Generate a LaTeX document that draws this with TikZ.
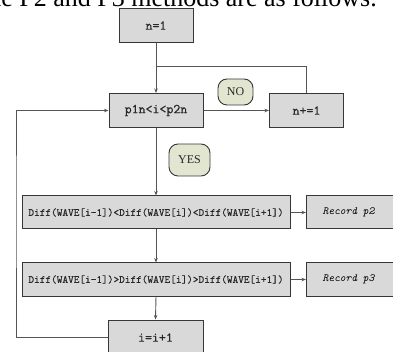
\documentclass[tikz,border=0pt]{standalone}
\usepackage{fontspec}
\setmainfont{Liberation Serif}
\newfontfamily\boxtt[AutoFakeBold=0.6]{Latin Modern Mono}
\usetikzlibrary{arrows.meta}
\definecolor{boxfill}{RGB}{217,217,217}
\definecolor{bubfill}{RGB}{226,230,208}
\definecolor{edgec}{RGB}{55,55,55}
\definecolor{connc}{RGB}{85,85,85}
\definecolor{txtc}{RGB}{40,40,40}
\tikzset{
  procbox/.style={draw=edgec, line width=1pt, fill=boxfill, minimum width=#1, minimum height=34pt, inner sep=0pt, text=txtc, font=\boxtt\bfseries\fontsize{13.5}{15}\selectfont},
  wavebox/.style={draw=edgec, line width=1pt, fill=boxfill, minimum width=#1, minimum height=33pt, inner sep=0pt, text=txtc, font=\boxtt\bfseries\fontsize{10.8}{12}\selectfont},
  recbox/.style={draw=edgec, line width=1pt, fill=boxfill, minimum width=92pt, minimum height=33pt, inner sep=0pt, text=black, font=\boxtt\itshape\fontsize{11}{12}\selectfont},
  bubble/.style={draw=edgec, line width=0.9pt, fill=bubfill, rounded corners=9pt, inner sep=0pt, text=txtc, font=\fontsize{12}{13}\selectfont},
  conn/.style={draw=connc, line width=0.9pt},
  arr/.style={conn, -{Stealth[length=4.5pt,width=3.5pt]}}
}
\begin{document}
\begin{tikzpicture}[x=1pt,y=-1pt]
\useasboundingbox (0,0) rectangle (393,352);
\clip (0,0) rectangle (393,352);
\node[anchor=base east, inner sep=0pt, font=\fontsize{26}{28}\selectfont] (head) at (377,6.5) {the P2 and P3 methods are as follows.};
\node[procbox=74pt] (n1) at (156,25.5) {n=1};
\node[procbox=94pt] (cond) at (156,110.5) {p1n<i<p2n};
\node[procbox=74pt] (nplus) at (306.5,110.5) {n+=1};
\node[bubble, minimum width=35pt, minimum height=26pt] (no) at (235.5,92) {NO};
\node[bubble, minimum width=41pt, minimum height=32pt] (yes) at (189.5,160) {YES};
\node[wavebox=268pt] (d1) at (156,212.5) {Diff(WAVE[i-1])<Diff(WAVE[i])<Diff(WAVE[i+1])};
\node[recbox, anchor=west] (r2) at (306,212.5) {\hspace*{-8pt}Record p2};
\node[wavebox=268pt] (d2) at (156,279.5) {Diff(WAVE[i-1])>Diff(WAVE[i])>Diff(WAVE[i+1])};
\node[recbox, anchor=west] (r3) at (306,279.5) {\hspace*{-8pt}Record p3};
\node[procbox=95pt, minimum height=35pt] (inc) at (155.5,337.5) {i=i+1};
\coordinate (j) at (156,66);
\coordinate (lx) at (16,200);
\draw[arr] (n1.south) -- (cond.north);
\draw[conn] (nplus.north) |- (j);
\draw[arr] (cond.east) -- (nplus.west);
\draw[arr] (cond.south) -- (d1.north);
\draw[arr] (d1.east) -- (r2.west);
\draw[arr] (d1.south) -- (d2.north);
\draw[arr] (d2.east) -- (r3.west);
\draw[arr] (d2.south) -- (inc.north);
\draw[arr] (inc.west) -| (lx) |- (cond.west);
\end{tikzpicture}
\end{document}
